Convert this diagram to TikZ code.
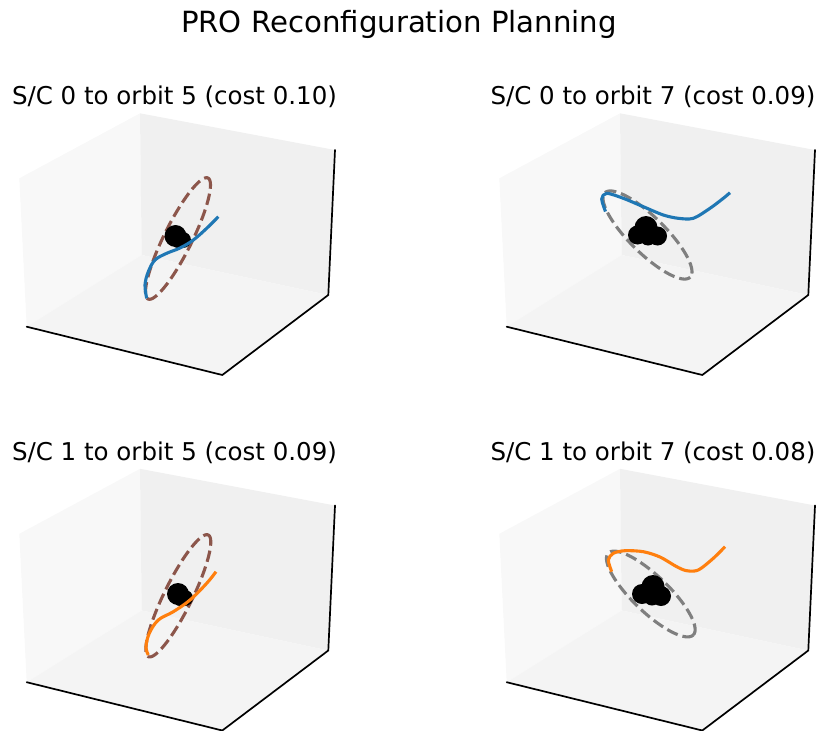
\documentclass[tikz,border=0pt]{standalone}
\usepackage{fontspec}
\setmainfont{DejaVu Sans}
\definecolor{trajblue}{HTML}{1F77B4}
\definecolor{trajorange}{HTML}{FF7F0E}
\definecolor{orbitbrown}{HTML}{8C564B}
\definecolor{orbitgray}{HTML}{7F7F7F}
\definecolor{paneleft}{HTML}{F8F8F8}
\definecolor{paneback}{HTML}{F0F0F0}
\definecolor{panefloor}{HTML}{F4F4F4}

\tikzset{
  traj/.style={line width=3.1pt, line cap=butt, line join=round},
  orbitline/.style={line width=3.1pt, dash pattern=on 11.5pt off 5pt},
  axisline/.style={line width=1.7pt, black, line cap=round},
  paneltitle/.style={anchor=base, inner sep=0pt, font=\fontsize{24.5}{29}\selectfont},
  figtitle/.style={anchor=base, inner sep=0pt, font=\fontsize{29.2}{35}\selectfont},
}

% the three panes of a 3D axes box and its three visible black edges
\newcommand\axesbox{%
  \fill[paneleft]  (19.3,178.3) -- (140,113.3) -- (141.7,255) -- (26.7,326.7) -- cycle;
  \fill[paneback]  (140,113.3) -- (335,150) -- (328.3,295) -- (141.7,255) -- cycle;
  \fill[panefloor] (26.7,326.7) -- (141.7,255) -- (328.3,295) -- (222.3,375) -- cycle;
  \draw[axisline] (26.7,326.7) -- (222.3,375) -- (328.3,295) -- (335,150);
}
% tilted ellipse: centre (#1,#2), major unit vector (#3,#4), semi-axes #5 and #6
\newcommand\orbitpath[6]{%
  plot[domain=0:360, samples=120, variable=\t]
  ({#1+#5*cos(\t)*(#3)-#6*sin(\t)*(#4)}, {#2+#5*cos(\t)*(#4)+#6*sin(\t)*(#3)}) -- cycle}

\begin{document}
\begin{tikzpicture}[x=1pt, y=-1pt]
\useasboundingbox (0,0) rectangle (820,731);

\node[figtitle] (figtitle) at (399,32.5) {PRO Reconfiguration Planning};

% S/C 0 to orbit 5
\begin{scope}
  \axesbox
\end{scope}
\draw[orbitline, orbitbrown] \orbitpath{178}{238.5}{0.444}{-0.896}{67.5}{14};
\fill (175.5,236) circle[radius=11] (183,240) circle[radius=8] (178,241) circle[radius=7];
\draw[traj, trajblue] plot[smooth, tension=0.6] coordinates {
  (146.7,298.3) (145,285) (148.3,271.7) (155,260) (166.7,253.3)
  (180,248) (193.3,240) (206.7,228.3) (218.3,216.7)};
\node[paneltitle] (title05) at (174.5,104) {S/C 0 to orbit 5 (cost 0.10)};

% S/C 0 to orbit 7
\begin{scope}[shift={(480,0)}]
  \axesbox
\end{scope}
\draw[orbitline, orbitgray] \orbitpath{647.5}{235}{0.711}{0.703}{60}{18};
\fill (646,227.5) circle[radius=11.5] (637.5,235) circle[radius=9.5]
      (657.5,236) circle[radius=9.5] (648,237) circle[radius=8.5];
\draw[traj, trajblue] plot[smooth, tension=0.5] coordinates {
  (605.5,211.5) (601.7,199) (606.7,193.3) (623.3,198.3) (643.3,206.7)
  (663.3,215) (678.3,218.3) (693.3,218.3) (710,208.3) (723.3,198.3) (730,192.7)};
\node[paneltitle] (title07) at (653,104) {S/C 0 to orbit 7 (cost 0.09)};

% S/C 1 to orbit 5
\begin{scope}[shift={(0,355.5)}]
  \axesbox
\end{scope}
\draw[orbitline, orbitbrown] \orbitpath{178.3}{595.8}{0.442}{-0.897}{67.8}{14};
\fill (178,594) circle[radius=11] (185,598) circle[radius=8] (180,599) circle[radius=7];
\draw[traj, trajorange] plot[smooth, tension=0.6] coordinates {
  (148.3,655) (146,646.7) (149.3,633.3) (158.3,620) (173.3,611.7)
  (190,600) (206.7,583.3) (216,571.7)};
\node[paneltitle] (title15) at (174.5,460) {S/C 1 to orbit 5 (cost 0.09)};

% S/C 1 to orbit 7
\begin{scope}[shift={(480,355.5)}]
  \axesbox
\end{scope}
\draw[orbitline, orbitgray] \orbitpath{650.8}{594}{0.721}{0.693}{59}{18};
\fill (653,586.5) circle[radius=11.5] (642,594) circle[radius=10]
      (661,596) circle[radius=10] (652,597) circle[radius=8.5];
\draw[traj, trajorange] plot[smooth, tension=0.5] coordinates {
  (611.7,571.7) (608.3,560) (613.3,553.3) (625,550.7) (643.3,551.7) (660,557)
  (676.7,566.7) (686.7,570.7) (698.3,570) (713.3,558.3) (725,546.7)};
\node[paneltitle] (title17) at (653,460) {S/C 1 to orbit 7 (cost 0.08)};
\end{tikzpicture}
\end{document}
